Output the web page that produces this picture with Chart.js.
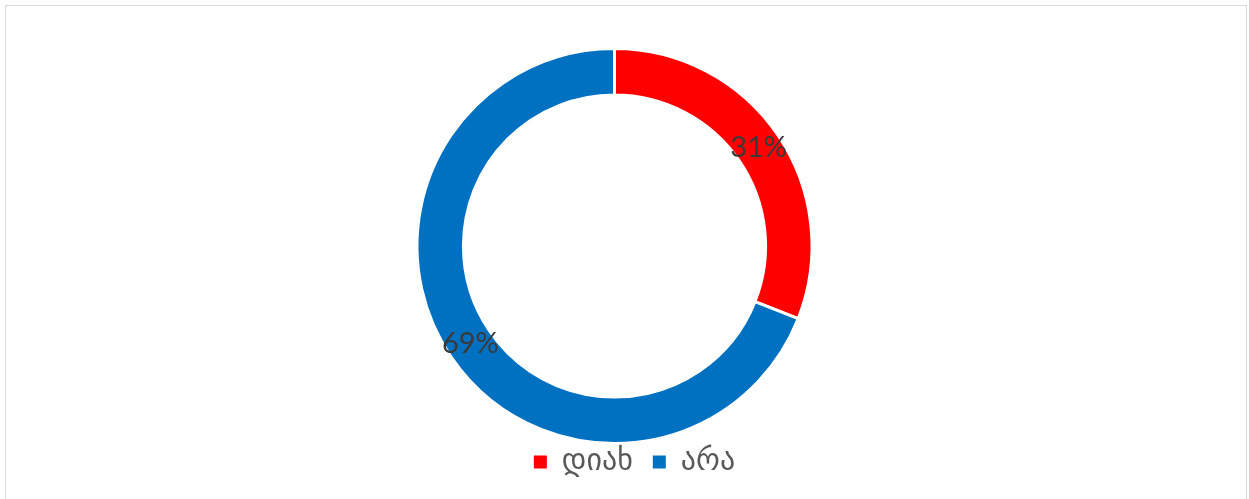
<!DOCTYPE html>
<html>
<head>
<meta charset="utf-8">
<script src="https://cdn.jsdelivr.net/npm/chart.js@4/dist/chart.umd.min.js"></script>
<style>
  html, body { margin: 0; padding: 0; background: #fff; }
  #wrap { position: relative; width: 1249px; height: 499px; overflow: hidden; }
  #frame { position: absolute; left: 5px; top: 5px; width: 1242px; height: 520px; border: 1px solid #d9d9d9; box-sizing: border-box; }
  #chart { position: absolute; left: 0; top: 0; }
</style>
</head>
<body>
<div id="wrap">
  <div id="frame"></div>
  <canvas id="chart" width="1249" height="499"></canvas>
</div>
<script>
const labels = ["დიახ", "არა"];
const values = [31, 69];
const colors = ["#ff0000", "#0070c0"];

// percent text in the middle of each ring segment
const sliceLabels = {
  id: "sliceLabels",
  afterDatasetsDraw(chart) {
    const { ctx } = chart;
    const meta = chart.getDatasetMeta(0);
    const total = values.reduce((a, b) => a + b, 0);
    ctx.save();
    ctx.font = "29px Lato";
    ctx.fillStyle = "#3a3a3a";
    ctx.textAlign = "center";
    ctx.textBaseline = "middle";
    meta.data.forEach((arc, i) => {
      const p = arc.tooltipPosition();
      ctx.fillText(Math.round(values[i] / total * 100) + "%", p.x, p.y);
    });
    ctx.restore();
  },
};

// nudge the legend box without moving the ring
const legendShift = {
  id: "legendShift",
  afterLayout(chart, args, opts) {
    const dx = opts.dx || 0;
    const dy = opts.dy || 0;
    chart.legend.left += dx;
    chart.legend.right += dx;
    chart.legend.top += dy;
    chart.legend.bottom += dy;
  },
};

const defaultLegendLabels = Chart.overrides.doughnut.plugins.legend.labels.generateLabels;

new Chart(document.getElementById("chart"), {
  type: "doughnut",
  data: {
    labels,
    datasets: [{
      data: values,
      backgroundColor: colors,
      borderColor: "#ffffff",
      borderWidth: 3,
      hoverOffset: 0,
    }],
  },
  options: {
    responsive: false,
    animation: false,
    cutout: "76.5%",
    layout: { padding: { top: 47, bottom: -6, left: 0, right: 20 } },
    plugins: {
      tooltip: { enabled: false },
      legendShift: { dx: 20, dy: -18 },
      legend: {
        position: "bottom",
        labels: {
          boxWidth: 13,
          boxHeight: 13,
          padding: 20,
          color: "#595959",
          font: { family: "'DejaVu Sans'", size: 30 },
          // plain filled squares, no white outline
          generateLabels: (chart) =>
            defaultLegendLabels(chart).map((item) => ({ ...item, lineWidth: 0 })),
        },
      },
    },
  },
  plugins: [sliceLabels, legendShift],
});
</script>
</body>
</html>
